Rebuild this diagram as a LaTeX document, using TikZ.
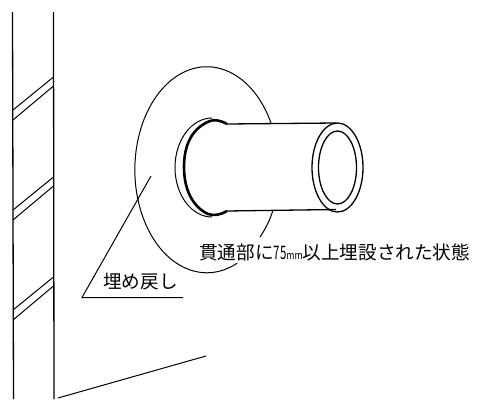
\documentclass[tikz,border=0pt]{standalone}
\usepackage{fontspec}
\newfontfamily\cjk{Noto Sans CJK JP}
\usepackage{tikz}
\usetikzlibrary{calc}

\tikzset{
  thinline/.style={line width=1pt,black},
  wallline/.style={line width=1.3pt,black},
  thickline/.style={line width=2.6pt,black},
  jplabel/.style={inner sep=0pt,font=\cjk\fontsize{18.6}{20}\selectfont},
}

\begin{document}
\begin{tikzpicture}[x=1pt,y=-1pt]
\useasboundingbox (0,0) rectangle (487,399);

    \coordinate (wla) at (12.5,12);
    \coordinate (wlb) at (13.5,399);
    \coordinate (wra) at (53.5,12);
    \coordinate (wrb) at (54,399);
    \coordinate (fa) at (58,398);
    \coordinate (fb) at (206,356);

    \draw[wallline] (wla) -- (wlb);
    \draw[wallline] (wra) -- (wrb);
    \draw[thinline] (fa) -- (fb);

    % slanted joints
    \foreach \y in {0,100,200} {
    \draw[thinline] (13,110+\y) -- (53.5,77+\y);
    \draw[thinline] (13,120+\y) -- (53.5,86+\y);
    }

    % big patch, open where the pipe and the text lie
    \draw[thinline] (271,123) arc[start angle=-27,end angle=-295,x radius=72,y radius=103];
    \draw[thinline] (273,210) .. controls (270,220) and (266,228) .. (260,237);

    % flange
    \draw[thinline] (212,118) arc[start angle=-90,end angle=-270,x radius=37,y radius=49.5];
    \draw[thickline] (227,124) .. controls (220,120) and (214,119.5) .. (210,121)
       .. controls (192,128) and (184,145) .. (184,167)
       .. controls (184,190) and (193,207) .. (208,214)
       .. controls (214,216) and (220,215) .. (227,211);

    % pipe
    \coordinate (pta) at (227,124);
    \coordinate (ptb) at (336,123);
    \coordinate (pba) at (227,211);
    \coordinate (pbb) at (336,209.5);
    \draw[wallline] (pta) -- (ptb);
    \draw[wallline] (pba) -- (pbb);
    \draw[wallline] (337.5,167.5) ellipse[x radius=25.5,y radius=44.5];
    \draw[wallline] (337.5,167.5) ellipse[x radius=19,y radius=36.5];

    % leader
    \coordinate (la) at (151,176);
    \coordinate (lb) at (82,297.5);
    \coordinate (lc) at (183,297.5);
    \draw[thinline] (la) -- (lb) -- (lc);

    \node[jplabel,anchor=west] (fill) at (103,282) {埋め戻し};
    \node[jplabel,anchor=west] (state) at (199,252) {貫通部に\scalebox{.62}[1]{75}{\fontsize{11}{12}\selectfont\scalebox{.8}[1]{mm}}以上埋設された状態};

\end{tikzpicture}
\end{document}
